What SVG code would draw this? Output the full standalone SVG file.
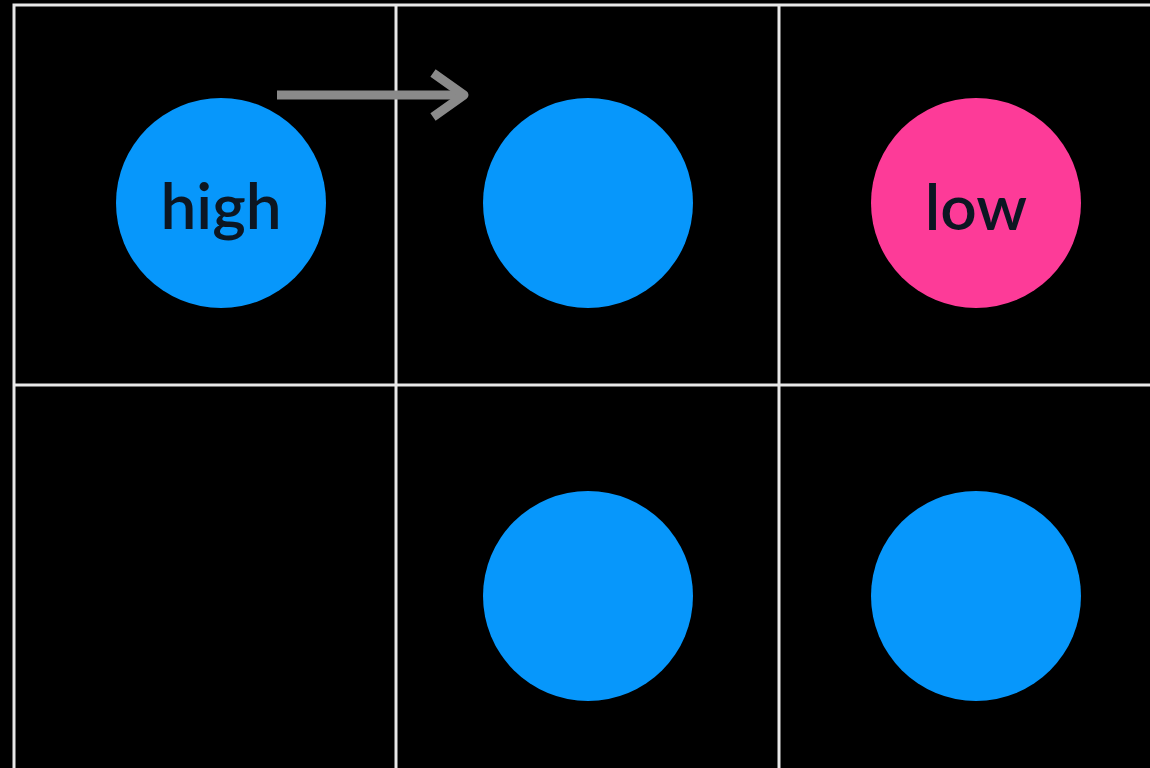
<svg xmlns="http://www.w3.org/2000/svg" width="1150" height="768" viewBox="0 0 1150 768">
<style>
.grid{stroke:#e8e8e8;stroke-width:3;fill:none}
.blue{fill:#0797fb}
.pink{fill:#fd3b98}
.lbl{font-family:Lato,"Open Sans",sans-serif;font-size:64px;font-weight:600;fill:#0c1622;text-anchor:middle}
.conn{stroke:#8a8a8a;stroke-width:9;fill:none;stroke-linecap:butt}
</style>
<rect width="1150" height="768" fill="#000"/>
<g id="grid">
<path class="grid" d="M14,768 V5 H1150"/>
<path class="grid" d="M396,5 V768 M779,5 V768 M14,385 H1150"/>
</g>
<g id="n-high"><circle class="blue" cx="221" cy="203" r="105"/><text class="lbl" x="221" y="229">high</text></g>
<g id="n-mid-top"><circle class="blue" cx="588" cy="203" r="105"/></g>
<g id="n-low"><circle class="pink" cx="976" cy="203" r="105"/><text class="lbl" x="976" y="230">low</text></g>
<g id="n-mid-bottom"><circle class="blue" cx="588" cy="596" r="105"/></g>
<g id="n-right-bottom"><circle class="blue" cx="976" cy="596" r="105"/></g>
<g id="connectors">
<path class="conn" d="M277,95 H464"/>
<path class="conn" d="M433,73 L464,95 L433,117" stroke-linejoin="round"/>
</g>
</svg>
